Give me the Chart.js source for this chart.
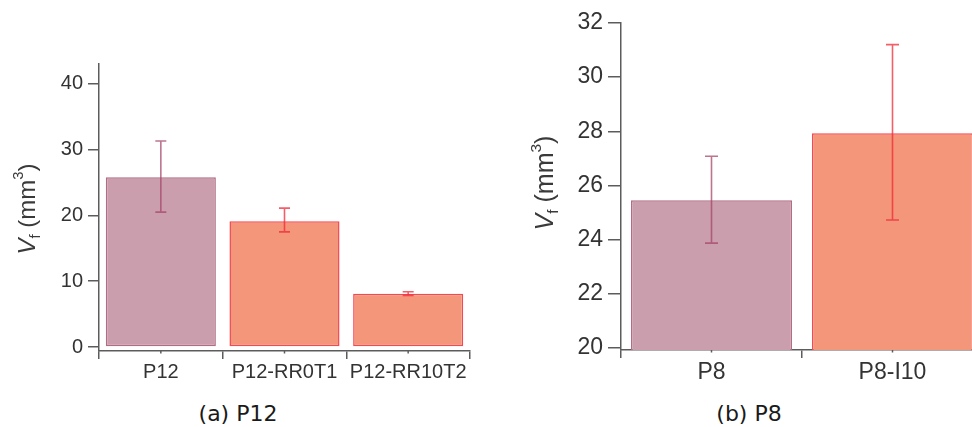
<!DOCTYPE html>
<html>
<head>
<meta charset="utf-8">
<script src="https://cdn.jsdelivr.net/npm/chart.js@4.4.0/dist/chart.umd.min.js"></script>
<style>
  html, body { margin: 0; padding: 0; background: #fff; overflow: hidden; width: 972px; height: 427px; }
  .wrap { position: absolute; top: 0; }
  #wa { left: 0; width: 486px; height: 390px; }
  #wb { left: 486px; width: 520px; height: 390px; }
  .cap { position: absolute; top: 403px; width: 200px; text-align: center; font-family: "DejaVu Sans", sans-serif; font-size: 22px; line-height: 22px; color: #1a1a1a; }
</style>
</head>
<body>
<div class="wrap" id="wa"><canvas id="ca"></canvas></div>
<div class="wrap" id="wb"><canvas id="cb"></canvas></div>
<div class="cap" style="left:138px">(a) P12</div>
<div class="cap" style="left:649px">(b) P8</div>
<script>
// ---- Data: panel (a) P12 ----
const catsA = ['P12', 'P12-RR0T1', 'P12-RR10T2'];
const valsA = [25.8, 19.1, 8.1];
const lowA  = [20.5, 17.5, 7.85];
const highA = [31.3, 21.1, 8.4];
const ticksA = [0, 10, 20, 30, 40];

// ---- Data: panel (b) P8 ----
const catsB = ['P8', 'P8-I10'];
const valsB = [25.45, 27.93];
const lowB  = [23.87, 24.72];
const highB = [27.08, 31.2];
const ticksB = [20, 22, 24, 26, 28, 30, 32];

const PINK_FILL = 'rgb(202,158,172)';
const PINK_EDGE = 'rgb(178,108,134)';
const PINK_ERR  = 'rgba(165,70,105,0.75)';
const ORNG_FILL = 'rgb(244,150,121)';
const ORNG_EDGE = 'rgb(244,72,82)';
const ORNG_ERR  = 'rgba(240,40,55,0.75)';
const AXIS = '#5c5c5c';
const TXT = '#333333';

const errPlugin = {
  id: 'errbars',
  afterDatasetsDraw(chart, args, opts) {
    const ctx = chart.ctx;
    const meta = chart.getDatasetMeta(0);
    const y = chart.scales.y;
    ctx.save();
    meta.data.forEach((bar, i) => {
      const x = bar.x;
      const yl = y.getPixelForValue(opts.low[i]);
      const yh = y.getPixelForValue(opts.high[i]);
      ctx.strokeStyle = opts.colors[i];
      ctx.lineWidth = 1.6;
      ctx.beginPath();
      ctx.moveTo(x, yl); ctx.lineTo(x, yh);
      ctx.moveTo(x - opts.cap, yl); ctx.lineTo(x + opts.cap, yl);
      ctx.moveTo(x - opts.cap, yh); ctx.lineTo(x + opts.cap, yh);
      ctx.stroke();
    });
    // small center ticks on x axis
    const xs = chart.scales.x;
    ctx.strokeStyle = AXIS;
    ctx.lineWidth = 1.5;
    for (let i = 0; i < xs.ticks.length; i++) {
      const px = xs.getPixelForValue(i);
      ctx.beginPath();
      ctx.moveTo(px, xs.top); ctx.lineTo(px, xs.top + 2.5);
      ctx.stroke();
    }
    ctx.restore();
  },
  afterDraw(chart, args, opts) {
    // y-axis title: V_f (mm^3)
    const ctx = chart.ctx;
    const F = opts.font;
    ctx.save();
    ctx.translate(opts.bx, opts.cy);
    ctx.rotate(-Math.PI / 2);
    ctx.fillStyle = '#3a3a3a';
    ctx.textBaseline = 'alphabetic';
    const parts = [
      { t: 'V', f: 'italic ' + F + 'px "Liberation Sans"', dy: 0 },
      { t: 'f', f: (F * 0.62).toFixed(1) + 'px "Liberation Sans"', dy: F * 0.2 },
      { t: ' (mm', f: F + 'px "Liberation Sans"', dy: 0 },
      { t: '3', f: (F * 0.62).toFixed(1) + 'px "Liberation Sans"', dy: -F * 0.5 },
      { t: ')', f: F + 'px "Liberation Sans"', dy: 0 }
    ];
    let total = 0;
    parts.forEach(p => { ctx.font = p.f; p.w = ctx.measureText(p.t).width; total += p.w; });
    let x = -total / 2;
    parts.forEach(p => { ctx.font = p.f; ctx.fillText(p.t, x, p.dy); x += p.w; });
    ctx.restore();
  }
};

function makeChart(id, cats, vals, low, high, tickVals, cfg) {
  const fills = cats.map((c, i) => i === 0 ? PINK_FILL : ORNG_FILL);
  const edges = cats.map((c, i) => i === 0 ? PINK_EDGE : ORNG_EDGE);
  const errs  = cats.map((c, i) => i === 0 ? PINK_ERR : ORNG_ERR);
  return new Chart(document.getElementById(id), {
    type: 'bar',
    data: {
      labels: cats,
      datasets: [{
        data: vals,
        backgroundColor: fills,
        borderColor: edges,
        borderWidth: 1.5,
        borderSkipped: false,
        barPercentage: 0.89,
        categoryPercentage: 1.0
      }]
    },
    plugins: [errPlugin],
    options: {
      responsive: true,
      maintainAspectRatio: false,
      animation: false,
      layout: { padding: { left: 0, right: cfg.padRight, top: cfg.padTop, bottom: 0 } },
      plugins: {
        legend: { display: false },
        tooltip: { enabled: false },
        errbars: { low: low, high: high, colors: errs, cap: cfg.cap, font: cfg.titleFont, bx: cfg.titleX, cy: cfg.titleY }
      },
      scales: {
        x: {
          offset: true,
          grid: { display: true, offset: true, drawOnChartArea: false, drawTicks: true, tickLength: 8, color: AXIS, lineWidth: 1.5 },
          border: { display: true, color: AXIS, width: 1.5 },
          ticks: { color: TXT, font: { family: 'Liberation Sans', size: cfg.font }, padding: 1, maxRotation: 0, autoSkip: false },
          afterFit(s) { s.height = cfg.xh; }
        },
        y: {
          min: cfg.min, max: cfg.max,
          afterBuildTicks(s) { s.ticks = tickVals.map(v => ({ value: v })); },
          grid: { display: true, drawOnChartArea: false, drawTicks: true, tickLength: cfg.tickLen, color: AXIS, lineWidth: 1.5 },
          border: { display: true, color: AXIS, width: 1.5 },
          ticks: { color: TXT, font: { family: 'Liberation Sans', size: cfg.font }, padding: 5 },
          afterFit(s) { s.width = cfg.yw; }
        }
      }
    }
  });
}

makeChart('ca', catsA, valsA, lowA, highA, ticksA, {
  padRight: 16, padTop: 64, xh: 39, yw: 99, min: -0.6, max: 43, font: 20, tickLen: 11, cap: 5.5,
  titleFont: 24, titleX: 35, titleY: 209
});
makeChart('cb', catsB, valsB, lowB, highB, ticksB, {
  padRight: 23, padTop: 23, xh: 40, yw: 135, min: 19.92, max: 32, font: 23, tickLen: 13, cap: 6.5,
  titleFont: 25, titleX: 67, titleY: 183
});
</script>
</body>
</html>
